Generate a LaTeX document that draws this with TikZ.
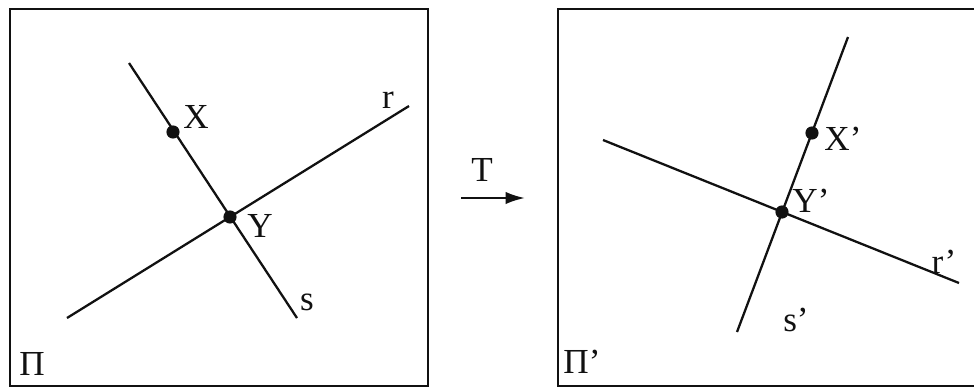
\documentclass[tikz,border=0pt]{standalone}
\usepackage{fontspec}
\setmainfont{Liberation Serif}
\usetikzlibrary{arrows.meta,positioning}
\definecolor{ink}{HTML}{111111}
\tikzset{
  plane/.style={ink,line width=1.6pt},
  mapline/.style={ink,line width=1.3pt},
  pt/.style={circle,fill=ink,inner sep=0pt,minimum size=7.5pt},
  lbl/.style={font=\fontsize{20}{22}\selectfont,inner sep=0pt,text=ink},
}
\begin{document}
\begin{tikzpicture}[x=0.02cm,y=-0.02cm]
\useasboundingbox (0,0) rectangle (974,387);
% left plane
\draw[plane] (10,9) rectangle (428,386);
\coordinate (s1) at (129,63);
\coordinate (s2) at (297,318);
\coordinate (r1) at (67,318);
\coordinate (r2) at (409,106);
\draw[mapline] (s1) -- (s2);
\draw[mapline] (r1) -- (r2);
\node[pt] (X) at (173,132) {};
\node[pt] (Y) at (230,217) {};
\node[lbl] (labX) at (196,117) {X};
\node[lbl] (labY) at (260,226) {Y};
\node[lbl] (labr) at (388,100) {r};
\node[lbl] (labs) at (307,302) {s};
\node[lbl] (labPi) at (32,364) {Π};
% arrow
\coordinate (Ta) at (461,198);
\coordinate (Tb) at (525,198);
\draw[mapline,-{Latex[length=11pt,width=7pt]}] (Ta) -- (Tb);
\node[lbl] (labT) at (482,170) {T};
% right plane
\draw[plane] (980,9) -- (558,9) -- (558,386) -- (980,386);
\coordinate (sp1) at (848,37);
\coordinate (sp2) at (737,332);
\coordinate (rp1) at (603,140);
\coordinate (rp2) at (959,283);
\draw[mapline] (sp1) -- (sp2);
\draw[mapline] (rp1) -- (rp2);
\node[pt] (Xp) at (812,133) {};
\node[pt] (Yp) at (782,212) {};
\node[lbl] (labXp) at (843,139) {X'};
\node[lbl] (labYp) at (811,201) {Y'};
\node[lbl] (labrp) at (944,262) {r'};
\node[lbl] (labsp) at (796,320) {s'};
\node[lbl] (labPip) at (582,362) {Π'};
\end{tikzpicture}
\end{document}
